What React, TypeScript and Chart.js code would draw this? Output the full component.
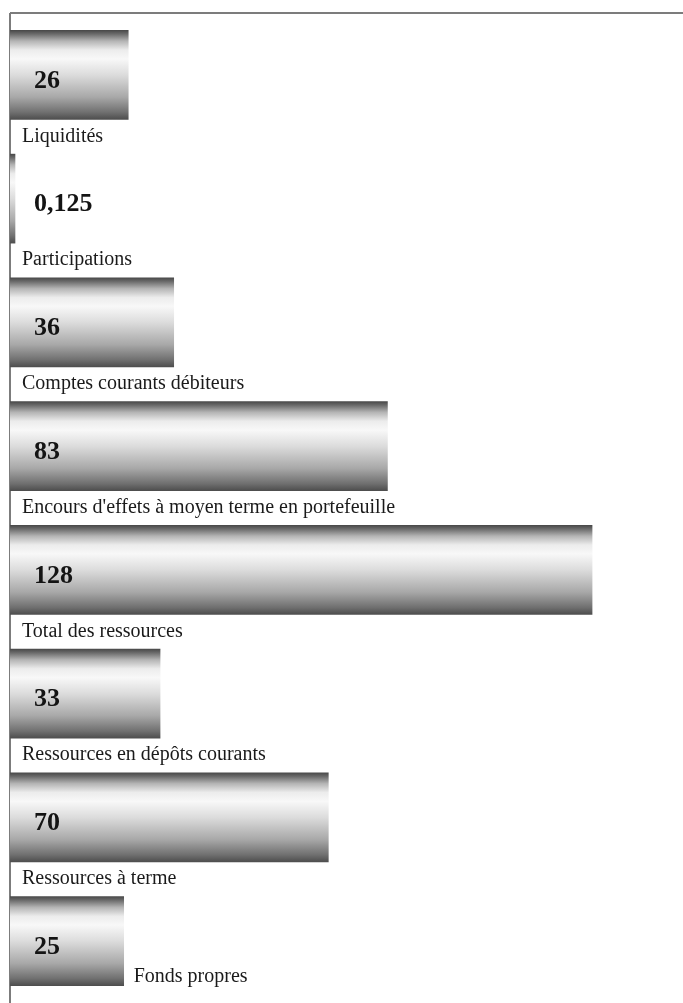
import React, { useEffect, useRef } from "react";
import { Chart, registerables } from "chart.js";

Chart.register(...registerables);

const categories = [
  "Liquidités",
  "Participations",
  "Comptes courants débiteurs",
  "Encours d'effets à moyen terme en portefeuille",
  "Total des ressources",
  "Ressources en dépôts courants",
  "Ressources à terme",
  "Fonds propres",
];
const values = [26, 0.125, 36, 83, 128, 33, 70, 25];
const valueLabels = ["26", "0,125", "36", "83", "128", "33", "70", "25"];

const BAR_THICKNESS = 89;
const SERIF = "'Liberation Serif', 'DejaVu Serif', serif";

const gradientFill = (ctx: any) => {
  const chart = ctx.chart;
  const yScale = chart.scales && chart.scales.y;
  if (!yScale || !chart.chartArea || ctx.dataIndex === undefined) return "#bbbbbb";
  const c = yScale.getPixelForValue(ctx.dataIndex);
  const h = BAR_THICKNESS / 2;
  const g = chart.ctx.createLinearGradient(0, c - h, 0, c + h);
  g.addColorStop(0, "#4a4a4a");
  g.addColorStop(0.04, "#6a6a6a");
  g.addColorStop(0.12, "#b4b4b4");
  g.addColorStop(0.22, "#ececec");
  g.addColorStop(0.32, "#f8f8f8");
  g.addColorStop(0.5, "#dcdcdc");
  g.addColorStop(0.75, "#a8a8a8");
  g.addColorStop(0.92, "#707070");
  g.addColorStop(1, "#4e4e4e");
  return g;
};

const decorPlugin = {
  id: "decor",
  beforeDatasetsDraw(chart: any) {
    const { ctx, chartArea } = chart;
    ctx.save();
    ctx.strokeStyle = "#7c7c7c";
    ctx.lineWidth = 2;
    ctx.beginPath();
    ctx.moveTo(chartArea.left, chartArea.top);
    ctx.lineTo(chart.width, chartArea.top);
    ctx.moveTo(chartArea.left, chartArea.top);
    ctx.lineTo(chartArea.left, chart.height);
    ctx.stroke();
    ctx.restore();
  },
  afterDatasetsDraw(chart: any) {
    const { ctx, chartArea } = chart;
    const meta = chart.getDatasetMeta(0);
    ctx.save();
    meta.data.forEach((bar: any, i: number) => {
      const p = bar.getProps(["x", "y", "base", "height"], true);
      // value label
      ctx.fillStyle = "#141414";
      ctx.font = `bold 26px ${SERIF}`;
      ctx.textAlign = "left";
      ctx.textBaseline = "middle";
      ctx.fillText(valueLabels[i], chartArea.left + 24, p.y + 6);
      // category label
      ctx.font = `20px ${SERIF}`;
      ctx.fillStyle = "#1a1a1a";
      const bottom = p.y + p.height / 2;
      const ly = bottom + 17;
      if (ly + 10 > chartArea.bottom) {
        ctx.textBaseline = "alphabetic";
        ctx.fillText(categories[i], Math.max(p.x, p.base) + 10, bottom - 4);
      } else {
        ctx.fillText(categories[i], chartArea.left + 12, ly);
      }
    });
    ctx.restore();
  },
};

export default function App() {
  const canvasRef = useRef<HTMLCanvasElement | null>(null);

  useEffect(() => {
    if (!canvasRef.current) return;
    const chart = new Chart(canvasRef.current, {
      type: "bar",
      data: {
        labels: categories,
        datasets: [
          {
            data: values,
            backgroundColor: gradientFill,
            borderWidth: 0,
            barThickness: BAR_THICKNESS,
            minBarLength: 5,
          },
        ],
      },
      options: {
        indexAxis: "y",
        responsive: false,
        animation: false,
        layout: { padding: { top: 13, left: 10, right: 0, bottom: 0 } },
        plugins: {
          legend: { display: false },
          tooltip: { enabled: false },
        },
        scales: {
          x: { display: false, min: 0, max: 148 },
          y: { display: false },
        },
      },
      plugins: [decorPlugin],
    });
    return () => chart.destroy();
  }, []);

  return (
    <div style={{ position: "absolute", left: 0, top: 0, width: 683, height: 1003, background: "#fff" }}>
      <canvas ref={canvasRef} width={683} height={1003} style={{ display: "block" }} />
    </div>
  );
}
